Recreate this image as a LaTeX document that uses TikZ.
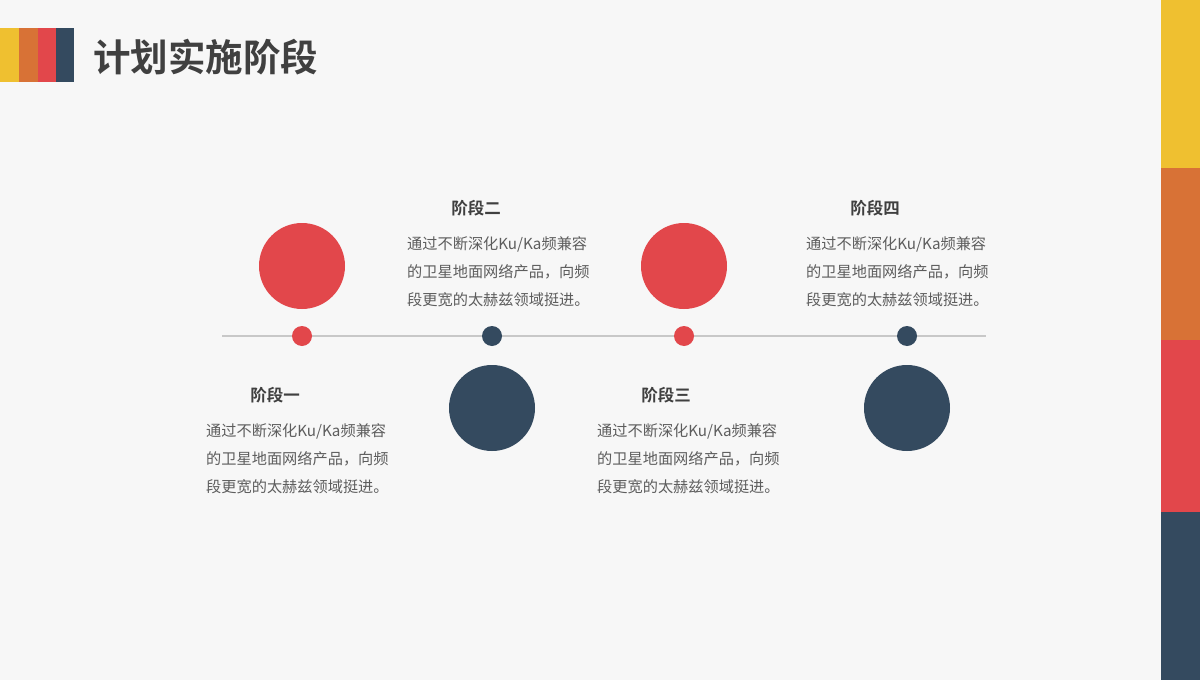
\documentclass[tikz,border=0pt]{standalone}
\usepackage{fontspec}
\setmainfont{Noto Sans CJK SC}
\newfontfamily\cjkbold{Noto Sans CJK SC Bold}
\definecolor{bgc}{HTML}{F7F7F7}
\definecolor{cyel}{HTML}{EFC030}
\definecolor{corg}{HTML}{D87236}
\definecolor{cred}{HTML}{E2474B}
\definecolor{cnavy}{HTML}{344A5F}
\definecolor{ctxt}{HTML}{404040}
\definecolor{cline}{HTML}{C8C8C8}
\tikzset{
  bigdot/.style={circle,minimum size=86pt,inner sep=0pt,draw=none},
  smalldot/.style={circle,minimum size=20pt,inner sep=0pt,draw=none},
  head/.style={font=\cjkbold\fontsize{16.5}{18}\selectfont,text=ctxt,inner sep=0pt,anchor=center},
  body/.style={font=\fontsize{15.2}{17}\selectfont,text=ctxt!85!white,inner sep=0pt,anchor=west},
}
\newcommand\stageblock[5]{%
  \node[head] (#1h) at (#2+69,#3) {#5};
  \node[body] (#1a) at (#2,#3+36.5) {通过不断深化Ku/Ka频兼容};
  \node[body] (#1b) at (#2,#3+64) {的卫星地面网络产品，向频};
  \node[body] (#1c) at (#2,#3+91.5) {段更宽的太赫兹领域挺进。};
}
\begin{document}
\begin{tikzpicture}[x=1pt,y=-1pt]
\fill[bgc] (0,0) rectangle (1200,680);
\useasboundingbox (0,0) rectangle (1200,680);
% right side bars
\fill[cyel] (1161,0) rectangle (1200,168);
\fill[corg] (1161,168) rectangle (1200,340);
\fill[cred] (1161,340) rectangle (1200,512);
\fill[cnavy] (1161,512) rectangle (1200,680);
% title bars
\fill[cyel] (0,28) rectangle (19,82);
\fill[corg] (19,28) rectangle (37.5,82);
\fill[cred] (37.5,28) rectangle (56,82);
\fill[cnavy] (56,28) rectangle (74,82);
\node[font=\cjkbold\fontsize{37.5}{40}\selectfont,text=ctxt,anchor=west,inner sep=0pt] (title) at (93,57) {计划实施阶段};
% timeline
\coordinate (tl) at (222,336);
\coordinate (tr) at (986,336);
\draw[cline,line width=2.6pt] (tl) -- (tr);
\node[smalldot,fill=cred] (d1) at (302,336) {};
\node[smalldot,fill=cnavy] (d2) at (492,336) {};
\node[smalldot,fill=cred] (d3) at (684,336) {};
\node[smalldot,fill=cnavy] (d4) at (907,336) {};
\node[bigdot,fill=cred] (c1) at (302,266) {};
\node[bigdot,fill=cnavy] (c2) at (492,408) {};
\node[bigdot,fill=cred] (c3) at (684,266) {};
\node[bigdot,fill=cnavy] (c4) at (907,408) {};
% text blocks
\stageblock{s1}{206}{395}{}{阶段一}
\stageblock{s2}{407}{208}{}{阶段二}
\stageblock{s3}{597}{395}{}{阶段三}
\stageblock{s4}{806}{208}{}{阶段四}
\end{tikzpicture}
\end{document}
